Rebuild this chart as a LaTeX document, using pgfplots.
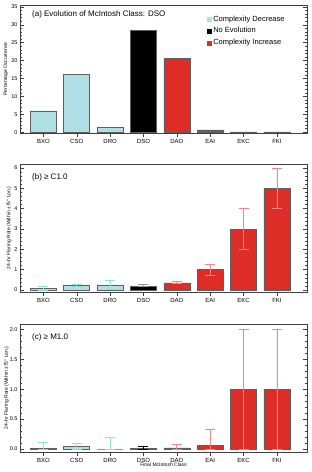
\documentclass[border=0pt]{standalone}
\usepackage{fontspec}
\setmainfont{Liberation Sans}
\usepackage{pgfplots}
\pgfplotsset{compat=1.18}

\definecolor{decr}{RGB}{176,224,230}
\definecolor{incr}{RGB}{222,44,38}
\definecolor{edge}{RGB}{95,95,95}
\definecolor{errdecr}{RGB}{150,222,215}
\definecolor{errincr}{RGB}{242,135,135}
\definecolor{errnone}{RGB}{150,150,150}

\tikzset{paneltitle/.style={font=\fontsize{8}{9}\selectfont, anchor=north west}}

\pgfplotsset{
  panel/.style={
    width=287pt, height=128pt, scale only axis,
    xmin=-0.7, xmax=7.9,
    xtick={0,...,7},
    xticklabels={BXO,CSO,DRO,DSO,DAO,EAI,EKC,FKI},
    xtick pos=left, ytick pos=both, tick align=inside,
    minor y tick num=4,
    major tick length=4pt, minor tick length=2pt,
    tick label style={font=\fontsize{6}{7}\selectfont},
    yticklabel style={font=\fontsize{5.5}{6}\selectfont, xshift=1pt},
    xticklabel style={yshift=1.5pt},
    /pgf/number format/assume math mode=true,
    label style={font=\fontsize{5}{6}\selectfont},
    axis line style={black!75},
    every tick/.style={black!75},
    ybar, bar width=0.78, bar shift=0pt,
  },
  barsty/.style={fill=#1, draw=edge, line width=0.5pt},
  errsty/.style={
    error bars/.cd, y dir=both, y explicit,
    error bar style={color=#1, line width=0.9pt},
    error mark options={rotate=90, mark size=5pt, color=#1, line width=0.9pt},
  },
}

\begin{document}
\begin{tikzpicture}
\path[use as bounding box] (0,0) rectangle (312pt,472pt);

% (a) distribution of final classes for DSO regions
\begin{axis}[panel, at={(20pt,339pt)}, anchor=south west,
  ymin=-0.2, ymax=35.5, ytick={0,5,...,35},
  ylabel={Percentage Occurrence},
  ylabel style={at={(rel axis cs:0,0.5)}, anchor=center, yshift=14pt},
  legend style={at={(rel axis cs:0.64,0.95)}, anchor=north west,
    draw=none, fill=none, font=\fontsize{7.5}{8}\selectfont,
    row sep=1pt, legend cell align=left},
  legend image code/.code={\fill[#1] (0pt,-2pt) rectangle (4pt,2pt);},
]
\addplot[barsty=decr, forget plot] coordinates {(0,6.0) (1,16.1) (2,1.4)};
\addplot[barsty=black, forget plot] coordinates {(3,28.4)};
\addplot[barsty=incr, forget plot] coordinates {(4,20.7) (5,0.7) (6,0.1) (7,0.1)};
\addlegendimage{decr}
\addlegendentry{Complexity Decrease}
\addlegendimage{black}
\addlegendentry{No Evolution}
\addlegendimage{incr}
\addlegendentry{Complexity Increase}
\node[paneltitle] at (rel axis cs:0.03,0.98) {(a) Evolution of McIntosh Class: DSO};
\end{axis}

% (b) C-class flaring rates
\begin{axis}[panel, at={(20pt,180pt)}, anchor=south west,
  ymin=-0.1, ymax=6.2, ytick={0,...,6},
  ylabel={24--hr Flaring Rate (Within ±75° Lon.)},
  ylabel style={at={(rel axis cs:0,0.5)}, anchor=center, yshift=11pt},
]
\addplot[barsty=decr, errsty=errdecr] coordinates {
  (0,0.07) += (0,0.08) -= (0,0.07)
  (1,0.22) += (0,0.06) -= (0,0.07)
  (2,0.25) += (0,0.20) -= (0,0.20)};
\addplot[barsty=black, errsty=errnone] coordinates {
  (3,0.20) += (0,0.05) -= (0,0.05)};
\addplot[barsty=incr, errsty=errincr] coordinates {
  (4,0.35) += (0,0.05) -= (0,0.05)
  (5,1.00) += (0,0.25) -= (0,0.28)
  (6,3.00) += (0,1.00) -= (0,1.00)
  (7,5.00) += (0,1.00) -= (0,1.00)};
\node[paneltitle] at (rel axis cs:0.03,0.95) {(b) ≥ C1.0};
\end{axis}

% (c) M-class flaring rates
\begin{axis}[panel, at={(20pt,20pt)}, anchor=south west,
  ymin=-0.05, ymax=2.09, ytick={0,0.5,...,2},
  yticklabel style={/pgf/number format/.cd, fixed, fixed zerofill, precision=1},
  ylabel={24--hr Flaring Rate (Within ±75° Lon.)},
  ylabel style={at={(rel axis cs:0,0.5)}, anchor=center, yshift=13.5pt},
  xlabel={Final McIntosh Class},
  xlabel style={at={(rel axis cs:0.5,0)}, anchor=center, yshift=-12.5pt},
]
\addplot[barsty=decr, errsty=errdecr] coordinates {
  (0,0.02) += (0,0.09) -= (0,0.02)
  (1,0.04) += (0,0.06) -= (0,0.04)
  (2,0.00) += (0,0.20) -= (0,0.00)};
\addplot[barsty=black, errsty=black] coordinates {
  (3,0.005) += (0,0.045) -= (0,0.005)};
\addplot[barsty=incr, errsty=errincr] coordinates {
  (4,0.02) += (0,0.06) -= (0,0.02)
  (5,0.06) += (0,0.27) -= (0,0.06)
  (6,1.00) += (0,1.00) -= (0,1.00)
  (7,1.00) += (0,1.00) -= (0,1.00)};
\node[paneltitle] at (rel axis cs:0.03,0.95) {(c) ≥ M1.0};
\end{axis}
\end{tikzpicture}
\end{document}
